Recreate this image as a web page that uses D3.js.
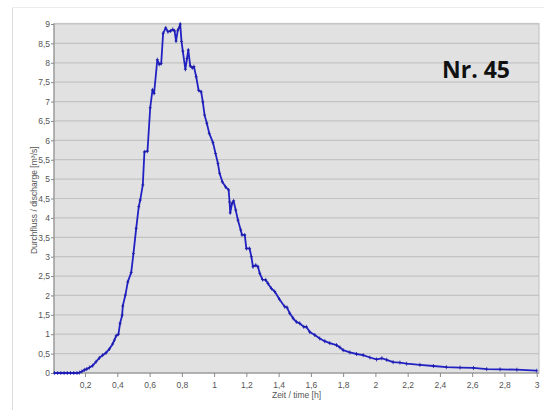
<!DOCTYPE html>
<html><head><meta charset="utf-8">
<script src="https://cdn.jsdelivr.net/npm/d3@7"></script>
<style>
html,body{margin:0;padding:0;background:#fff;}
svg{display:block;}
</style></head>
<body>
<svg id="c" width="544" height="410"></svg>
<script>
const timeH = [0.01,0.03,0.05,0.07,0.09,0.11,0.13,0.15,0.165,0.18,0.196,0.21,0.227,0.247,0.268,0.289,0.309,0.33,0.351,0.371,0.382,0.393,0.407,0.417,0.43,0.434,0.45,0.465,0.486,0.5,0.517,0.533,0.542,0.558,0.568,0.587,0.604,0.618,0.628,0.648,0.66,0.672,0.684,0.70,0.714,0.73,0.744,0.755,0.764,0.775,0.785,0.79,0.798,0.806,0.822,0.832,0.84,0.852,0.865,0.875,0.889,0.904,0.92,0.93,0.941,0.955,0.97,0.993,1.009,1.024,1.034,1.051,1.071,1.09,1.096,1.10,1.111,1.121,1.134,1.148,1.165,1.173,1.19,1.2,1.22,1.231,1.241,1.258,1.272,1.283,1.3,1.32,1.334,1.355,1.376,1.405,1.438,1.452,1.469,1.49,1.51,1.531,1.556,1.572,1.593,1.624,1.655,1.686,1.717,1.759,1.78,1.8,1.842,1.883,1.924,1.966,2.007,2.04,2.07,2.11,2.152,2.194,2.276,2.36,2.44,2.525,2.608,2.69,2.773,2.877,3.0];
const discharge = [0,0,0,0,0,0,0,0,0.01,0.04,0.08,0.1,0.14,0.19,0.29,0.39,0.46,0.52,0.62,0.75,0.85,0.96,1.0,1.28,1.49,1.73,2.01,2.35,2.59,3.08,3.73,4.29,4.46,4.85,5.70,5.72,6.84,7.30,7.21,8.08,7.96,7.98,8.76,8.90,8.80,8.82,8.86,8.82,8.56,8.84,8.92,9.0,8.55,8.30,7.83,8.11,8.33,7.92,7.87,7.90,7.64,7.29,7.25,6.99,6.65,6.44,6.18,5.94,5.66,5.40,5.15,4.93,4.80,4.72,4.41,4.13,4.37,4.44,4.20,3.94,3.69,3.56,3.56,3.21,3.21,3.0,2.74,2.78,2.74,2.57,2.41,2.40,2.31,2.18,2.10,1.90,1.71,1.69,1.54,1.41,1.32,1.28,1.19,1.19,1.06,0.98,0.89,0.82,0.77,0.72,0.66,0.59,0.53,0.49,0.46,0.40,0.35,0.38,0.34,0.28,0.27,0.24,0.21,0.18,0.15,0.14,0.13,0.10,0.095,0.085,0.06];
const xTicks = [0.2,0.4,0.6,0.8,1,1.2,1.4,1.6,1.8,2,2.2,2.4,2.6,2.8,3];
const yTicks = [0,0.5,1,1.5,2,2.5,3,3.5,4,4.5,5,5.5,6,6.5,7,7.5,8,8.5,9];
const xTitle = "Zeit / time [h]";
const yTitle = "Durchfluss / discharge [m³/s]";
const label = "Nr. 45";

const svg = d3.select("#c");
const P = {l:54, r:539, t:23.5, b:373};
const x = d3.scaleLinear().domain([0,3]).range([52.8,536.7]);
const y = d3.scaleLinear().domain([0,9]).range([373,24]);
const fmt = d => String(d).replace(".", ",");

// outer frame
svg.append("line").attr("x1",12.5).attr("x2",12.5).attr("y1",7).attr("y2",410).attr("stroke","#dcdcdc");
svg.append("line").attr("x1",12).attr("x2",544).attr("y1",7.5).attr("y2",7.5).attr("stroke","#ececec");

// plot background
svg.append("rect").attr("x",P.l).attr("y",P.t).attr("width",P.r-P.l).attr("height",P.b-P.t)
  .attr("fill","#e1e1e1").attr("stroke","#c6c6c6").attr("stroke-width",1.2);

// gridlines
svg.append("g").selectAll("line").data(yTicks.filter(d=>d>0)).join("line")
  .attr("x1",P.l).attr("x2",P.r).attr("y1",d=>y(d)).attr("y2",d=>y(d))
  .attr("stroke","#c3c3c3").attr("stroke-width",1.2);

// axes
const gx = svg.append("g").attr("transform",`translate(0,${P.b})`)
  .call(d3.axisBottom(x).tickValues(xTicks).tickFormat(fmt).tickSize(4).tickSizeOuter(0));
const gy = svg.append("g").attr("transform",`translate(${P.l},0)`)
  .call(d3.axisLeft(y).tickValues(yTicks).tickFormat(fmt).tickSize(3).tickSizeOuter(0));
[gx,gy].forEach(g=>{
  g.select(".domain").remove();
  g.selectAll("line").attr("stroke","#8a8a8a");
  g.selectAll("text").attr("fill","#555").style("font-family","Liberation Sans, Arial, sans-serif").style("font-size","8.5px");
});
gx.selectAll("text").attr("dy","0.95em");
gy.selectAll("text").attr("x",-4);
svg.append("line").attr("x1",P.l).attr("x2",P.r).attr("y1",P.b).attr("y2",P.b).attr("stroke","#8a8a8a");
svg.append("line").attr("x1",P.l).attr("x2",P.l).attr("y1",P.t).attr("y2",P.b).attr("stroke","#8a8a8a");

// titles
svg.append("text").attr("x",(P.l+P.r)/2).attr("y",398).attr("text-anchor","middle")
  .style("font-family","Liberation Sans, Arial, sans-serif").style("font-size","8.5px").attr("fill","#555").text(xTitle);
svg.append("text").attr("transform",`translate(37,${(P.t+P.b)/2+2}) rotate(-90)`).attr("text-anchor","middle")
  .style("font-family","Liberation Sans, Arial, sans-serif").style("font-size","8.5px").attr("fill","#555").text(yTitle);
svg.append("text").attr("x",510).attr("y",78).attr("text-anchor","end")
  .style("font-family","Open Sans, sans-serif").style("font-weight","bold").style("font-size","23px").attr("fill","#111").text(label);

// line
const pts = timeH.map((t,i)=>[t,discharge[i]]);
svg.append("path").datum(pts)
  .attr("d", d3.line().x(d=>x(d[0])).y(d=>y(d[1])))
  .attr("fill","none").attr("stroke","#2222c4").attr("stroke-width",1.8).attr("stroke-linejoin","round");
svg.append("g").selectAll("path").data(pts).join("path")
  .attr("d", d=>{const cx=x(d[0]), cy=y(d[1]); return `M${cx},${cy-2}V${cy+2}M${cx-1.5},${cy}H${cx+1.5}`;})
  .attr("stroke","#1a1aa8").attr("stroke-width",0.8);
</script>
</body></html>
